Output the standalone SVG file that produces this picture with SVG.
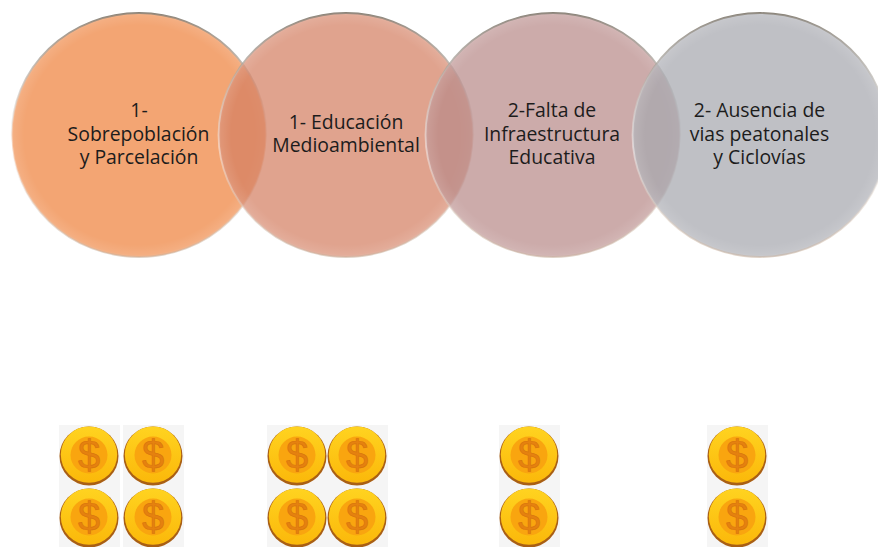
<svg xmlns="http://www.w3.org/2000/svg" width="878" height="547" viewBox="0 0 878 547">
<style>
.t{font-family:"Open Sans","Noto Sans","Liberation Sans",sans-serif;font-size:19.4px;fill:#1c1c1c;text-anchor:middle}
.d{font-family:"Liberation Sans",sans-serif;font-size:40px;fill:#e5810f;stroke:#d4700c;stroke-width:.5;text-anchor:middle}
.c{stroke-width:1.8}
</style>
<defs>
<radialGradient id="edge" cx="50%" cy="50%" r="50%">
<stop offset="0.9" stop-color="#fff" stop-opacity="0"/>
<stop offset="0.98" stop-color="#fff" stop-opacity=".1"/>
<stop offset="1" stop-color="#fff" stop-opacity=".2"/>
</radialGradient>
<linearGradient id="rim" x1="0" y1="0" x2="0" y2="1">
<stop offset="0" stop-color="#6d6558" stop-opacity=".8"/>
<stop offset=".55" stop-color="#ffffff" stop-opacity=".45"/>
<stop offset="1" stop-color="#b89a80" stop-opacity=".45"/>
</linearGradient>
<linearGradient id="coinFace" x1="0" y1="0" x2="0" y2="1">
<stop offset="0" stop-color="#ffd320"/>
<stop offset="1" stop-color="#fbb80a"/>
</linearGradient>
<g id="coin">
<rect x="-30" y="-31" width="61" height="62" fill="#f5f5f5"/>
<circle r="29.5" fill="#a95f14"/>
<circle r="28.2" cy="-1.4" fill="url(#coinFace)"/>
<circle r="18.5" cy="-1" fill="#f9a50f"/>
<text class="d" y="13">$</text>
</g>
</defs>
<g id="circle-1">
<ellipse cx="139" cy="135" rx="127.5" ry="122" fill="#f3a573" class="c" stroke="url(#rim)"/>
<ellipse cx="139" cy="135" rx="127.5" ry="122" fill="url(#edge)"/>
<text class="t" x="139" y="117">1-</text>
<text class="t" x="138.500" y="141">Sobrepoblación</text>
<text class="t" x="139" y="164">y Parcelación</text>
</g>
<g id="circle-2">
<ellipse cx="346" cy="135" rx="127.5" ry="122" fill="#d47f63" fill-opacity=".72" class="c" stroke="url(#rim)"/>
<ellipse cx="346" cy="135" rx="127.5" ry="122" fill="url(#edge)"/>
<text class="t" x="346" y="129">1- Educación</text>
<text class="t" x="346" y="152">Medioambiental</text>
</g>
<g id="circle-3">
<ellipse cx="553" cy="135" rx="127.5" ry="122" fill="#b98b89" fill-opacity=".72" class="c" stroke="url(#rim)"/>
<ellipse cx="553" cy="135" rx="127.5" ry="122" fill="url(#edge)"/>
<text class="t" x="552" y="117">2-Falta de</text>
<text class="t" x="552" y="141">Infraestructura</text>
<text class="t" x="552" y="164">Educativa</text>
</g>
<g id="circle-4">
<ellipse cx="760" cy="135" rx="127.5" ry="122" fill="#a6a7ae" fill-opacity=".72" class="c" stroke="url(#rim)"/>
<ellipse cx="760" cy="135" rx="127.5" ry="122" fill="url(#edge)"/>
<text class="t" x="759.500" y="117">2- Ausencia de</text>
<text class="t" x="759.500" y="141">vias peatonales</text>
<text class="t" x="759.500" y="164">y Ciclovías</text>
</g>
<g id="coins-1">
<use href="#coin" x="89" y="456"/><use href="#coin" x="153" y="456"/>
<use href="#coin" x="89" y="518"/><use href="#coin" x="153" y="518"/>
</g>
<g id="coins-2">
<use href="#coin" x="297" y="456"/><use href="#coin" x="357" y="456"/>
<use href="#coin" x="297" y="518"/><use href="#coin" x="357" y="518"/>
</g>
<g id="coins-3">
<use href="#coin" x="529" y="456"/><use href="#coin" x="529" y="518"/>
</g>
<g id="coins-4">
<use href="#coin" x="737" y="456"/><use href="#coin" x="737" y="518"/>
</g>
</svg>
